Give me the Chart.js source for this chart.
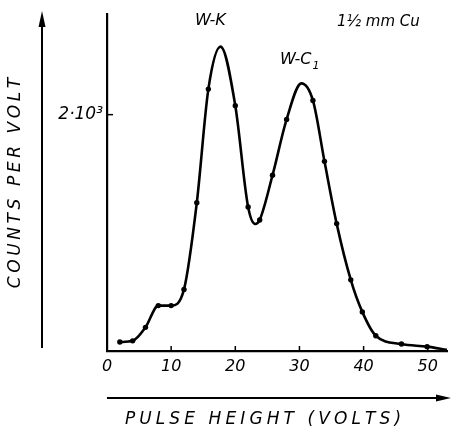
<!DOCTYPE html>
<html>
<head>
<meta charset="utf-8">
<script src="https://cdn.jsdelivr.net/npm/chart.js@4/dist/chart.umd.min.js"></script>
<style>
html,body{margin:0;padding:0;background:#fff;}
#wrap{width:451px;height:430px;}
</style>
</head>
<body>
<div id="wrap"><canvas id="c" width="451" height="430"></canvas></div>
<script>
// Pulse height (volts) and counts per volt
const volts  = [2, 4, 6, 8, 10, 12, 14, 15.8, 17.7, 20, 22, 23.1, 23.8, 25.8, 28, 30.3, 32.1, 33.9, 35.8, 38, 39.8, 41.9, 45.9, 49.9, 53];
const counts = [76, 86, 200, 384, 384, 521, 1255, 2216, 2576, 2076, 1218, 1075, 1109, 1487, 1960, 2265, 2120, 1605, 1078, 602, 331, 129, 59, 37, 10];
const measured = [1,1,1,1,1,1,1,1,0,1,1,0,1,1,1,0,1,1,1,1,1,1,1,1,0];
const xTickValues = [0, 10, 20, 30, 40, 50];
const yTickValues = [2000];
const yTickLabels = ['2·10³'];
const xTitle = 'PULSE HEIGHT (VOLTS)';
const yTitle = 'COUNTS PER VOLT';
const peakLabels = ['W-K', 'W-C'];
const filterLabel = '1½ mm Cu';

const points = volts.map((v, i) => ({x: v, y: counts[i]}));
const FONT = '"DejaVu Sans", sans-serif';

function spacedText(ctx, text, x, y, spacing) {
  const widths = [...text].map(ch => ctx.measureText(ch).width);
  const total = widths.reduce((a, b) => a + b, 0) + spacing * (widths.length - 1);
  let cx = x - total / 2;
  [...text].forEach((ch, i) => {
    ctx.fillText(ch, cx, y);
    cx += widths[i] + spacing;
  });
}

const decor = {
  id: 'decor',
  afterDraw(chart) {
    const ctx = chart.ctx;
    const xs = chart.scales.x, ys = chart.scales.y;
    ctx.save();
    ctx.fillStyle = '#000';
    ctx.strokeStyle = '#000';
    ctx.lineCap = 'butt';

    // tick marks (inside the frame)
    ctx.lineWidth = 1.5;
    xTickValues.forEach(v => {
      if (v === 0) return;
      const px = xs.getPixelForValue(v);
      ctx.beginPath(); ctx.moveTo(px, ys.bottom); ctx.lineTo(px, ys.bottom - 5); ctx.stroke();
    });
    yTickValues.forEach(v => {
      const py = ys.getPixelForValue(v);
      ctx.beginPath(); ctx.moveTo(xs.left, py); ctx.lineTo(xs.left + 6, py); ctx.stroke();
    });

    // outer arrows
    ctx.lineWidth = 2;
    ctx.beginPath(); ctx.moveTo(42, 348); ctx.lineTo(42, 22); ctx.stroke();
    ctx.beginPath(); ctx.moveTo(42, 11); ctx.lineTo(38.5, 27); ctx.lineTo(45.5, 27); ctx.closePath(); ctx.fill();
    ctx.beginPath(); ctx.moveTo(107, 398); ctx.lineTo(440, 398); ctx.stroke();
    ctx.beginPath(); ctx.moveTo(451, 398); ctx.lineTo(436, 394.5); ctx.lineTo(436, 401.5); ctx.closePath(); ctx.fill();

    // axis titles
    ctx.font = 'italic 17px ' + FONT;
    ctx.textBaseline = 'middle';
    ctx.textAlign = 'left';
    spacedText(ctx, xTitle, 263, 420, 4.1);
    ctx.save();
    ctx.translate(16, 183);
    ctx.rotate(-Math.PI / 2);
    spacedText(ctx, yTitle, 0, 0, 3.6);
    ctx.restore();

    // annotations
    ctx.font = 'italic 16px ' + FONT;
    ctx.textAlign = 'left';
    ctx.fillText(peakLabels[0], 195, 21);
    ctx.fillText(peakLabels[1], 280, 60);
    const wc = ctx.measureText(peakLabels[1]).width;
    ctx.font = 'italic 11px ' + FONT;
    ctx.fillText('1', 280 + wc + 1, 66);
    ctx.font = 'italic 15px ' + FONT;
    ctx.fillText(filterLabel, 337, 22);
    ctx.restore();
  }
};

new Chart(document.getElementById('c'), {
  type: 'line',
  data: {
    datasets: [{
      data: points,
      borderColor: '#000',
      backgroundColor: '#000',
      borderWidth: 2.6,
      pointRadius: measured.map(m => m ? 2.7 : 0),
      pointBackgroundColor: '#000',
      pointBorderWidth: 0,
      cubicInterpolationMode: 'monotone',
      fill: false
    }]
  },
  options: {
    responsive: false,
    animation: false,
    events: [],
    layout: {padding: {top: 12, left: 0, right: 0, bottom: 0}},
    plugins: {legend: {display: false}, tooltip: {enabled: false}, title: {display: false}},
    scales: {
      x: {
        type: 'linear',
        min: 0, max: 53,
        afterBuildTicks: s => { s.ticks = xTickValues.map(v => ({value: v})); },
        afterFit: s => { s.height = 79; },
        grid: {display: false, drawTicks: false},
        border: {display: true, color: '#000', width: 2.2},
        ticks: {
          color: '#000', padding: 6, maxRotation: 0,
          font: {family: FONT, size: 16, style: 'italic'}
        }
      },
      y: {
        type: 'linear',
        min: 0, max: 2850,
        afterBuildTicks: s => { s.ticks = yTickValues.map(v => ({value: v})); },
        afterFit: s => { s.width = 107; },
        grid: {display: false, drawTicks: false},
        border: {display: true, color: '#000', width: 2.2},
        ticks: {
          color: '#000', padding: 4,
          font: {family: FONT, size: 17, style: 'italic'},
          callback: (v) => { const i = yTickValues.indexOf(v); return i >= 0 ? yTickLabels[i] : ''; }
        }
      }
    }
  },
  plugins: [decor]
});
</script>
</body>
</html>
